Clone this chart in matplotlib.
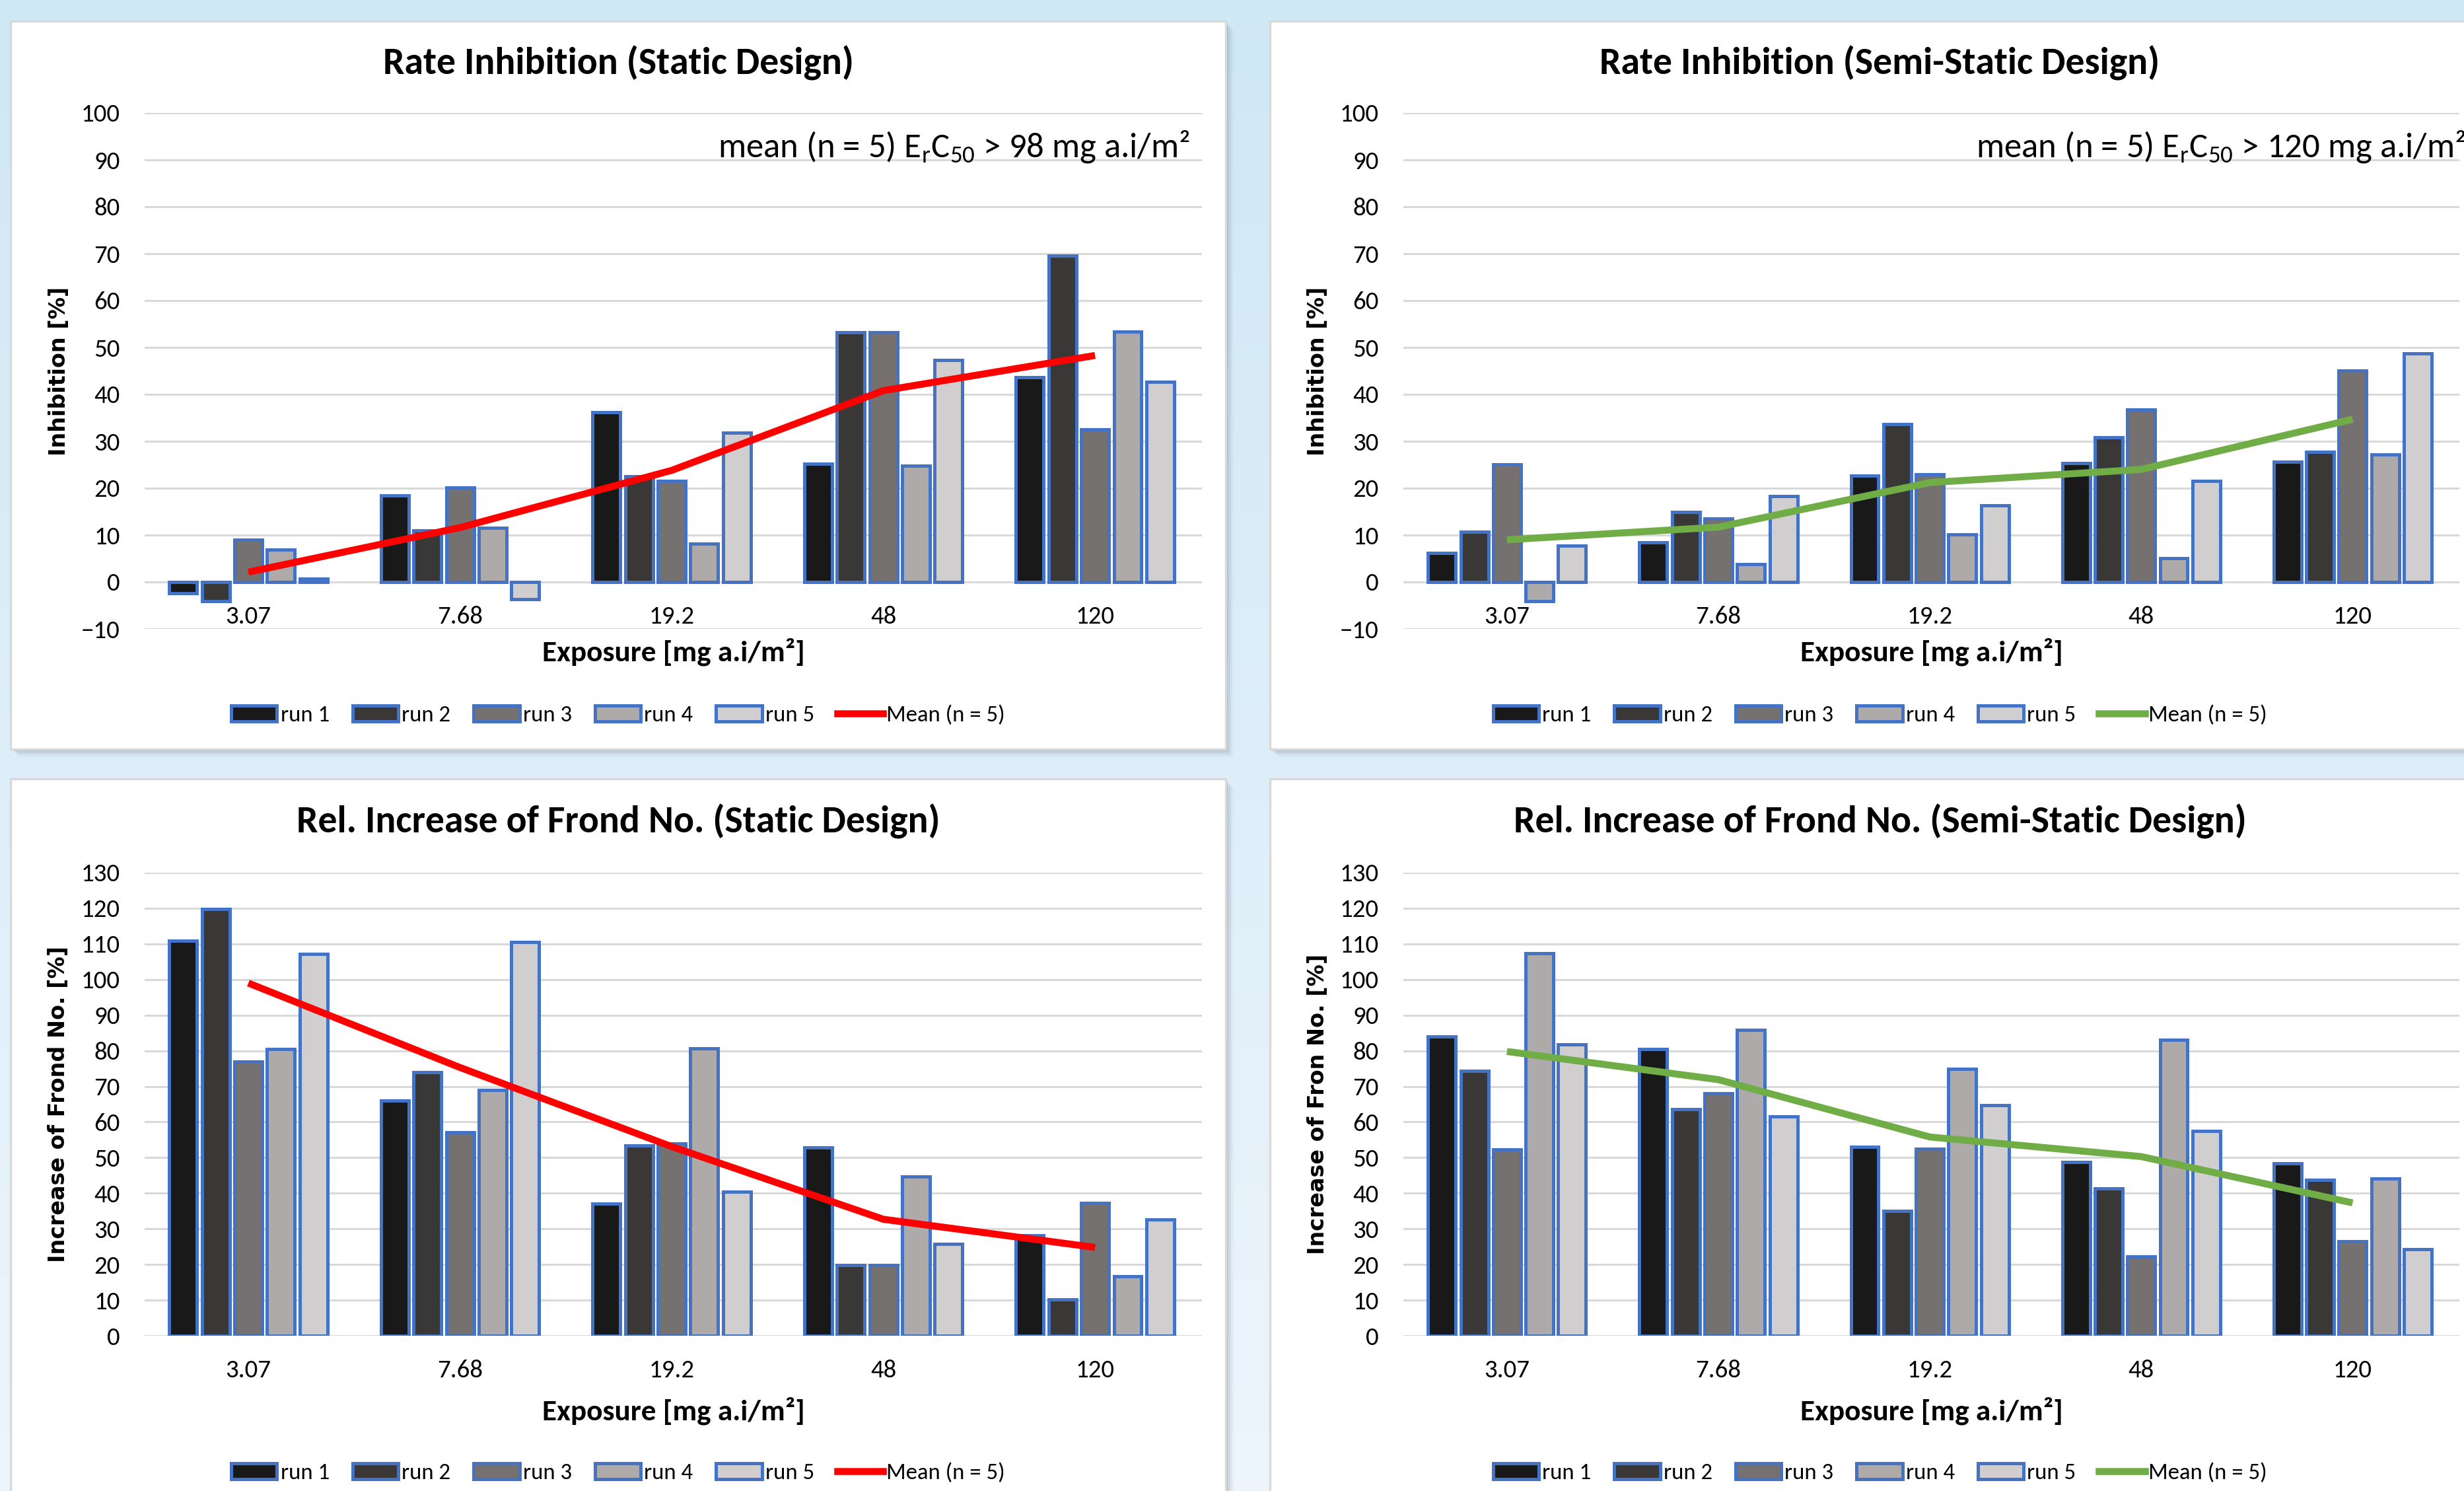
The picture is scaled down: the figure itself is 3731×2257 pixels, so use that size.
import numpy as np
import matplotlib
matplotlib.use("Agg")
import matplotlib.pyplot as plt
from matplotlib.patches import Rectangle, Patch
from matplotlib.lines import Line2D

W, H = 3731, 2257
DPI = 200

plt.rcParams['font.family'] = ['Carlito', 'Liberation Sans Narrow', 'Lato', 'DejaVu Sans']

# ---- data ----
exposure = ['3.07', '7.68', '19.2', '48', '120']
run_labels = ['run 1', 'run 2', 'run 3', 'run 4', 'run 5']

# Rate inhibition [%], static design (one list per run, over exposure)
ri_static = [[-2.4, 18.5, 36.2, 25.2, 43.7],
             [-4.1, 11.0, 22.6, 53.2, 69.6],
             [9.0, 20.2, 21.5, 53.2, 32.6],
             [6.9, 11.6, 8.2, 24.8, 53.4],
             [0.7, -3.6, 31.9, 47.3, 42.7]]
ri_static_mean = [2.1, 11.6, 23.8, 40.8, 48.3]

# Rate inhibition [%], semi-static design
ri_semi = [[6.2, 8.4, 22.7, 25.3, 25.7],
           [10.7, 15.0, 33.6, 30.9, 27.7],
           [25.1, 13.5, 22.9, 36.8, 45.1],
           [-4.1, 3.8, 10.1, 5.1, 27.2],
           [7.8, 18.3, 16.3, 21.6, 48.8]]
ri_semi_mean = [9.0, 11.7, 21.2, 24.0, 34.7]

# Rel. increase of frond number [%], static design
fr_static = [[110.9, 66.0, 37.0, 52.8, 28.2],
             [119.8, 74.0, 53.5, 19.9, 10.2],
             [76.9, 57.1, 54.0, 19.8, 37.2],
             [80.5, 68.9, 80.6, 44.7, 16.6],
             [107.2, 110.6, 40.4, 25.7, 32.7]]
fr_static_mean = [99.0, 75.3, 53.1, 32.7, 24.8]

# Rel. increase of frond number [%], semi-static design
fr_semi = [[84.1, 80.4, 53.1, 48.7, 48.4],
           [74.3, 63.6, 35.1, 41.3, 43.7],
           [52.3, 68.1, 52.5, 22.3, 26.5],
           [107.4, 85.9, 75.0, 83.0, 44.2],
           [81.8, 61.5, 64.7, 57.4, 24.3]]
fr_semi_mean = [79.8, 71.9, 55.8, 50.3, 37.3]

run_colors = ['#191919', '#3A3836', '#757170', '#AEAAAA', '#D0CECE']
edge_blue = '#4472C4'


def fig_rect(x0, y0, x1, y1):
    return [x0 / W, 1 - y1 / H, (x1 - x0) / W, (y1 - y0) / H]


fig = plt.figure(figsize=(W / DPI, H / DPI), dpi=DPI)

# background gradient
bg = fig.add_axes([0, 0, 1, 1], zorder=-10)
top = np.array([0.81, 0.91, 0.96])
bot = np.array([0.93, 0.96, 0.99])
t = np.linspace(0, 1, 256)[:, None]
grad = top * (1 - t) + bot * t
bg.imshow(grad[:, None, :], aspect='auto', extent=[0, 1, 0, 1])
bg.set_axis_off()

# cards (white panels with shadow)
cards = [(16, 32, 1856, 1134), (1923, 32, 3770, 1134),
         (16, 1179, 1856, 2290), (1923, 1179, 3770, 2290)]
for (x0, y0, x1, y1) in cards:
    for k, a in zip([12, 9, 6, 3], [0.06, 0.10, 0.16, 0.25]):
        r = fig_rect(x0 + k, y0 + k, x1 + k, y1 + k)
        fig.patches.append(Rectangle((r[0], r[1]), r[2], r[3], transform=fig.transFigure,
                                     facecolor='#7F8C99', edgecolor='none', alpha=a, zorder=-5))
    r = fig_rect(x0, y0, x1, y1)
    fig.patches.append(Rectangle((r[0], r[1]), r[2], r[3], transform=fig.transFigure,
                                 facecolor='white', edgecolor='#D9D9D9', linewidth=1.2, zorder=-4))

panels = [
    dict(runs=ri_static, mean=ri_static_mean, color='#FF0000', ylim=(-10, 100), step=10,
         title='Rate Inhibition (Static Design)', ylabel='Inhibition [%]',
         note='mean (n = 5) E$_\\mathregular{r}$C$_\\mathregular{50}$ > 98 mg a.i/m²',
         card=cards[0], plot=(219, 171, 1820, 952), title_y=95, xlab_y=987, leg_y=1083, ylab_x=89),
    dict(runs=ri_semi, mean=ri_semi_mean, color='#70AD47', ylim=(-10, 100), step=10,
         title='Rate Inhibition (Semi-Static Design)', ylabel='Inhibition [%]',
         note='mean (n = 5) E$_\\mathregular{r}$C$_\\mathregular{50}$ > 120 mg a.i/m²',
         card=cards[1], plot=(2125, 171, 3724, 952), title_y=95, xlab_y=987, leg_y=1083, ylab_x=1995),
    dict(runs=fr_static, mean=fr_static_mean, color='#FF0000', ylim=(0, 130), step=10,
         title='Rel. Increase of Frond No. (Static Design)', ylabel='Increase of Frond No. [%]',
         note=None, card=cards[2], plot=(219, 1321, 1820, 2022), title_y=1243, xlab_y=2136,
         leg_y=2230, ylab_x=89),
    dict(runs=fr_semi, mean=fr_semi_mean, color='#70AD47', ylim=(0, 130), step=10,
         title='Rel. Increase of Frond No. (Semi-Static Design)', ylabel='Increase of Fron No. [%]',
         note=None, card=cards[3], plot=(2125, 1321, 3724, 2022), title_y=1243, xlab_y=2136,
         leg_y=2230, ylab_x=1995),
]

x = np.arange(len(exposure))
pitch = 0.154
bw = 0.131

for p in panels:
    x0, y0, x1, y1 = p['plot']
    ax = fig.add_axes(fig_rect(x0, y0, x1, y1))
    ax.set_facecolor('none')
    for k, vals in enumerate(p['runs']):
        ax.bar(x + (k - 2) * pitch, vals, width=bw, color=run_colors[k],
               edgecolor=edge_blue, linewidth=1.8, zorder=3)
    ax.plot(x, p['mean'], color=p['color'], linewidth=3.8, zorder=4, solid_capstyle='butt')

    ax.set_xlim(-0.49, 4.505)
    ax.set_ylim(*p['ylim'])
    ax.set_yticks(np.arange(p['ylim'][0], p['ylim'][1] + 1, p['step']))
    ax.yaxis.grid(True, color='#D9D9D9', linewidth=1.1, zorder=0)
    ax.set_axisbelow(True)
    for s in ax.spines.values():
        s.set_visible(False)
    ax.spines['bottom'].set_position(('data', 0))
    ax.set_xticks(x)
    ax.set_xticklabels(exposure)
    ax.tick_params(axis='x', length=0, pad=13, labelsize=14)
    ax.tick_params(axis='y', length=0, pad=13.5, labelsize=14)

    cx0, cy0, cx1, cy1 = p['card']
    ccx = (cx0 + cx1) / 2
    fig.text(ccx / W, 1 - p['title_y'] / H, p['title'], ha='center', va='center',
             fontsize=20.8, fontweight='bold')
    fig.text(((x0 + x1) / 2) / W, 1 - p['xlab_y'] / H, 'Exposure [mg a.i/m²]',
             ha='center', va='center', fontsize=16.3, fontweight='bold')
    fig.text(p['ylab_x'] / W, 1 - ((y0 + y1) / 2) / H, p['ylabel'], rotation=90,
             ha='center', va='center', fontsize=12, fontweight='bold', family='DejaVu Sans')
    if p['note']:
        ax.text(0.542, 0.935, p['note'], transform=ax.transAxes, ha='left', va='center',
                fontsize=19, clip_on=False)

    handles = [Patch(facecolor=c, edgecolor=edge_blue, linewidth=1.8) for c in run_colors]
    handles.append(Line2D([], [], color=p['color'], linewidth=3.8))
    ax.legend(handles, run_labels + ['Mean (n = 5)'], loc='center', ncol=6, frameon=False,
              bbox_to_anchor=(ccx / W, 1 - p['leg_y'] / H), bbox_transform=fig.transFigure,
              fontsize=12.5, handlelength=2.0, handleheight=0.7, handletextpad=0.15,
              columnspacing=1.0)

fig.savefig('out.png', dpi=DPI)
